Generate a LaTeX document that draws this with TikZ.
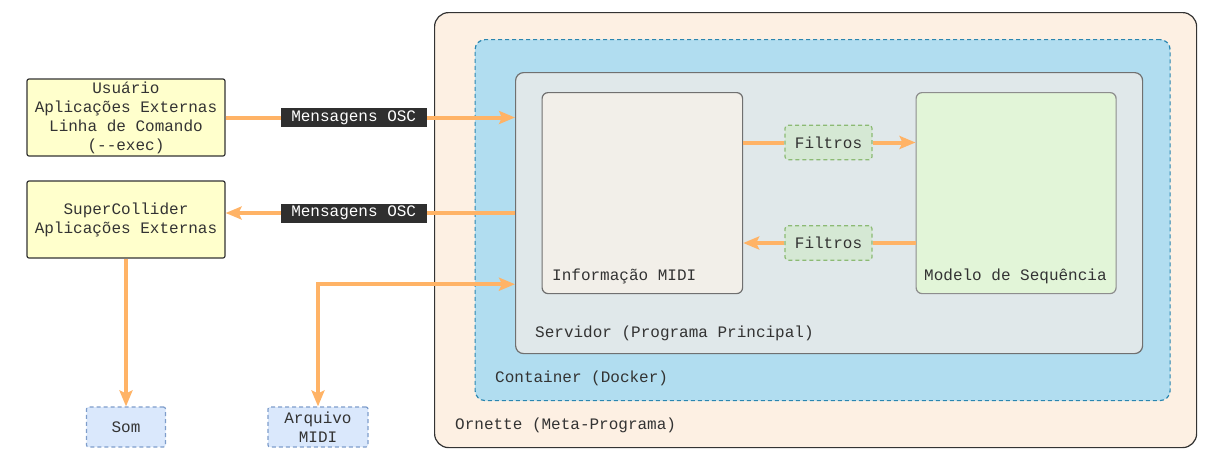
\documentclass[tikz,border=0pt]{standalone}
\usepackage{fontspec}
\setmainfont{Liberation Mono}
\usetikzlibrary{arrows.meta}
\definecolor{txt}{HTML}{333333}
\definecolor{ornfill}{HTML}{FDF0E3}
\definecolor{ornline}{HTML}{333333}
\definecolor{confill}{HTML}{B1DDF0}
\definecolor{conline}{HTML}{2A86B0}
\definecolor{servfill}{HTML}{E0E8EA}
\definecolor{servline}{HTML}{707070}
\definecolor{infofill}{HTML}{F2EFE9}
\definecolor{modfill}{HTML}{E2F5D8}
\definecolor{filtfill}{HTML}{D5E8D4}
\definecolor{filtline}{HTML}{8CBA74}
\definecolor{extfill}{HTML}{FFFFCC}
\definecolor{outfill}{HTML}{DAE8FC}
\definecolor{outline}{HTML}{7E9DCB}
\definecolor{flowc}{HTML}{FFB366}
\definecolor{oscfill}{HTML}{2F2F2F}
\begin{document}
\begin{tikzpicture}[x=1pt,y=-1pt,
  font=\fontsize{16}{19}\selectfont, text=txt,
  areabox/.style={anchor=north west, inner sep=0pt, line width=1.2pt},
  outerbox/.style={areabox, draw=ornline, fill=ornfill, rounded corners=14pt},
  conbox/.style={areabox, draw=conline, fill=confill, dashed, dash pattern=on 4pt off 3pt, rounded corners=10pt},
  servbox/.style={areabox, draw=servline, fill=servfill, rounded corners=8pt},
  infobox/.style={areabox, draw=servline, fill=infofill, rounded corners=6pt},
  modbox/.style={areabox, draw=servline!80, fill=modfill, rounded corners=6pt},
  filtbox/.style={draw=filtline, fill=filtfill, dashed, dash pattern=on 4pt off 3pt, line width=1.2pt, rounded corners=3pt, minimum width=87pt, minimum height=34.5pt, inner sep=0pt},
  extbox/.style={draw=ornline, fill=extfill, line width=1.2pt, rounded corners=2pt, minimum width=198pt, minimum height=77pt, inner sep=0pt, align=center},
  outbox/.style={draw=outline, fill=outfill, dashed, dash pattern=on 4pt off 3pt, line width=1.2pt, rounded corners=2pt, minimum height=40pt, inner sep=0pt, align=center},
  arealabel/.style={anchor=west, inner sep=0pt},
  flow/.style={draw=flowc, line width=4pt, -{Stealth[length=16pt,width=13pt,inset=3pt]}},
  flowboth/.style={draw=flowc, line width=4pt, {Stealth[length=16pt,width=13pt,inset=3pt]}-{Stealth[length=16pt,width=13pt,inset=3pt]}},
  osc/.style={fill=oscfill, text=white, inner xsep=0pt, inner ysep=0pt, minimum width=146pt, minimum height=19pt}
]
\useasboundingbox (0,0) rectangle (1206,464);

% containers
\node[outerbox, minimum width=762pt, minimum height=435pt] (orn) at (434,12) {};
\node[conbox, minimum width=695pt, minimum height=361pt] (con) at (474.5,39) {};
\node[servbox, minimum width=627pt, minimum height=281pt] (serv) at (515,72) {};
\node[infobox, minimum width=200.5pt, minimum height=201pt] (info) at (541.5,92) {};
\node[modbox, minimum width=200pt, minimum height=201pt] (mod) at (915.5,92) {};

\node[arealabel] (ornlab) at (455,425) {Ornette (Meta-Programa)};
\node[arealabel] (conlab) at (495,378) {Container (Docker)};
\node[arealabel] (servlab) at (535,333) {Servidor (Programa Principal)};
\node[arealabel] (infolab) at (552,276) {Informação MIDI};
\node[arealabel] (modlab) at (924,276) {Modelo de Sequência};

% filters
\node[filtbox] (f1) at (828.5,142.5) {Filtros};
\node[filtbox] (f2) at (828.5,243) {Filtros};

% external boxes
\node[extbox] (usr) at (126,117.5) {Usuário\\Aplicações Externas\\Linha de Comando\\(-{}-exec)};
\node[extbox] (sc) at (126,219.5) {SuperCollider\\Aplicações Externas};
\node[outbox, minimum width=79pt] (som) at (126,427) {Som};
\node[outbox, minimum width=100pt] (arq) at (318,427) {Arquivo\\MIDI};

% flows
\draw[flow] (usr.east) -- node[osc, pos=0.4425] (osc1) {Mensagens OSC} (usr.east -| serv.west);
\draw[flow] ([yshift=6.5pt]sc.east -| serv.west) -- node[osc, pos=0.5575] (osc2) {Mensagens OSC} ([yshift=6.5pt]sc.east);
\draw[flowboth] (arq.north) |- ([yshift=10pt]serv.west |- info.south);
\draw[flow] (sc.south) -- (som.north);

\draw[draw=flowc, line width=4pt] (info.east |- f1) -- (f1.west);
\draw[flow] (f1.east) -- (f1 -| mod.west);
\draw[draw=flowc, line width=4pt] (mod.west |- f2) -- (f2.east);
\draw[flow] (f2.west) -- (f2 -| info.east);
\end{tikzpicture}
\end{document}
